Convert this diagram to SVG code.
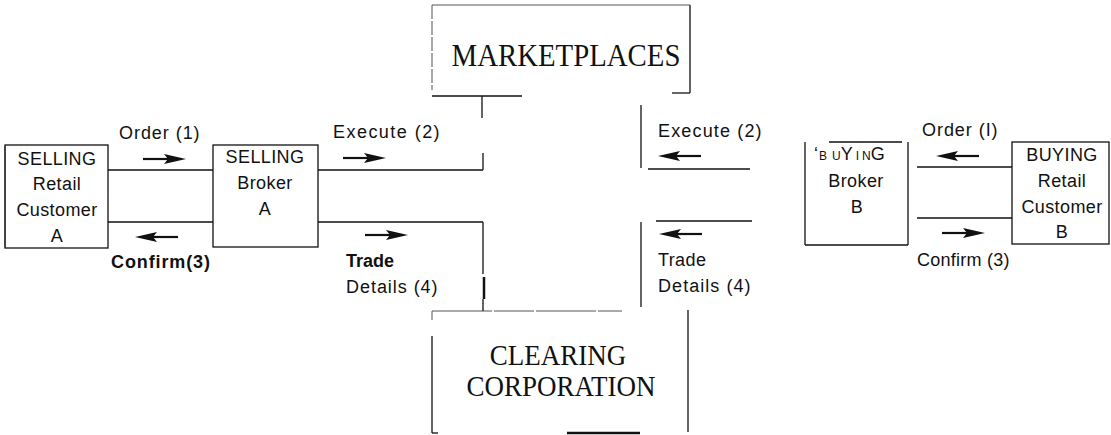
<svg xmlns="http://www.w3.org/2000/svg" xmlns:xlink="http://www.w3.org/1999/xlink" width="1111" height="435" viewBox="0 0 1111 435">
<style>
.s{font-family:"Liberation Sans",Arial,sans-serif;font-size:18px;fill:#111;letter-spacing:0.4px}
.c{text-anchor:middle}
.sm{font-size:12px}
.b{font-weight:bold;letter-spacing:0}
.serif{font-family:"Liberation Serif","Times New Roman",serif;fill:#111;text-anchor:middle}
.ln{stroke:#111;stroke-width:1.3;fill:none}
.lt{stroke:#555;stroke-width:1;fill:none}
.thick{stroke:#111;stroke-width:2.5;fill:none}
</style>
<defs>
<g id="arr">
<line x1="0" y1="0" x2="26" y2="0" stroke="#111" stroke-width="2.2"/>
<path d="M21,-5 L43,0 L21,5 L25,0 Z" fill="#111"/>
</g>
</defs>
<rect width="1111" height="435" fill="#fff"/>

<g id="marketplaces">
<line class="lt" x1="432" y1="5" x2="690" y2="5"/>
<line class="lt" x1="432" y1="5" x2="432" y2="90" stroke-dasharray="14 2"/>
<line class="ln" x1="690" y1="5" x2="690" y2="93"/>
<line class="ln" x1="432" y1="96" x2="522" y2="96"/>
<line class="ln" x1="672" y1="93" x2="690" y2="93"/>
<text class="serif" font-size="32" transform="translate(566,66) scale(0.9,1)">MARKETPLACES</text>
</g>

<g id="clearing">
<line class="lt" x1="432" y1="311" x2="622" y2="311" stroke-dasharray="60 2 40 2"/>
<line class="lt" x1="432" y1="311" x2="432" y2="320"/>
<line class="ln" x1="432" y1="336" x2="432" y2="433"/>
<line class="ln" x1="432" y1="433" x2="438" y2="433"/>
<line class="ln" x1="688" y1="310" x2="688" y2="432"/>
<line class="thick" x1="567" y1="433" x2="640" y2="433" stroke-width="2"/>
<text class="serif" font-size="30" transform="translate(558,365) scale(0.9,1)">CLEARING</text>
<text class="serif" font-size="30" transform="translate(561,396) scale(0.9,1)">CORPORATION</text>
</g>

<g id="selling-customer">
<rect x="5" y="145" width="103" height="103" class="ln" stroke="#333"/>
<line x1="5" y1="146" x2="5" y2="247" stroke="#444" stroke-width="2"/>
<text class="s c" x="57" y="165">SELLING</text>
<text class="s c" x="57" y="190">Retail</text>
<text class="s c" x="57" y="216">Customer</text>
<text class="s c" x="57" y="242">A</text>
</g>

<g id="selling-broker">
<rect x="213" y="145" width="105" height="102" class="ln" stroke="#333"/>
<text class="s c" x="265" y="163">SELLING</text>
<text class="s c" x="265" y="189">Broker</text>
<text class="s c" x="265" y="215">A</text>
</g>

<g id="buying-broker">
<line class="ln" x1="829" y1="142" x2="902" y2="142"/>
<line class="ln" x1="805" y1="142" x2="805" y2="245"/>
<line class="ln" x1="805" y1="245" x2="908" y2="245"/>
<line class="ln" x1="908" y1="142" x2="908" y2="245"/>
<text class="s" x="814" y="160" style="letter-spacing:0">‘<tspan class="sm" dx="1">B</tspan><tspan class="sm" dx="5">U</tspan><tspan>Y</tspan><tspan class="sm" dx="3">I</tspan><tspan class="sm" dx="3">N</tspan><tspan>G</tspan></text>
<text class="s c" x="856" y="187">Broker</text>
<text class="s c" x="857" y="213">B</text>
</g>

<g id="buying-customer">
<rect x="1012" y="142" width="97" height="102" class="ln" stroke="#333"/>
<text class="s c" x="1062" y="161">BUYING</text>
<text class="s c" x="1062" y="187">Retail</text>
<text class="s c" x="1062" y="213">Customer</text>
<text class="s c" x="1062" y="238">B</text>
</g>

<g id="connectors">
<line class="ln" x1="108" y1="170" x2="213" y2="170"/>
<line class="ln" x1="108" y1="222" x2="213" y2="222"/>
<line class="ln" x1="318" y1="170" x2="483" y2="170"/>
<line class="ln" x1="483" y1="153" x2="483" y2="170"/>
<line class="ln" x1="482" y1="96" x2="482" y2="118"/>
<line class="ln" x1="318" y1="222" x2="483" y2="222"/>
<line class="ln" x1="483" y1="222" x2="483" y2="274"/>
<line class="thick" x1="484" y1="277" x2="484" y2="299"/>
<line class="ln" x1="483" y1="299" x2="483" y2="311"/>
<line class="ln" x1="641" y1="105" x2="641" y2="168"/>
<line class="ln" x1="648" y1="169" x2="750" y2="169"/>
<line class="ln" x1="656" y1="221" x2="752" y2="221"/>
<line class="ln" x1="641" y1="222" x2="641" y2="307"/>
<line class="ln" x1="917" y1="167" x2="1012" y2="167"/>
<line class="ln" x1="917" y1="218" x2="1012" y2="218"/>

<use xlink:href="#arr" href="#arr" transform="translate(143,159)"/>
<use xlink:href="#arr" href="#arr" transform="translate(178,237) scale(-1,1)"/>
<use xlink:href="#arr" href="#arr" transform="translate(343,158)"/>
<use xlink:href="#arr" href="#arr" transform="translate(365,235)"/>
<use xlink:href="#arr" href="#arr" transform="translate(701,156) scale(-1,1)"/>
<use xlink:href="#arr" href="#arr" transform="translate(702,234) scale(-1,1)"/>
<use xlink:href="#arr" href="#arr" transform="translate(979,156) scale(-1,1)"/>
<use xlink:href="#arr" href="#arr" transform="translate(942,233)"/>

<text class="s" x="119" y="139" textLength="81" lengthAdjust="spacing">Order (1)</text>
<text class="s b" x="111" y="268" textLength="99" lengthAdjust="spacing">Confirm(3)</text>
<text class="s" x="333" y="138" textLength="107" lengthAdjust="spacing">Execute (2)</text>
<text class="s b" x="346" y="267">Trade</text>
<text class="s" x="346" y="293" textLength="92" lengthAdjust="spacing">Details (4)</text>
<text class="s" x="658" y="137" textLength="104" lengthAdjust="spacing">Execute (2)</text>
<text class="s" x="658" y="266">Trade</text>
<text class="s" x="658" y="292" textLength="93" lengthAdjust="spacing">Details (4)</text>
<text class="s" x="922" y="136" textLength="76" lengthAdjust="spacing">Order (I)</text>
<text class="s" x="917" y="266" textLength="93" lengthAdjust="spacing">Confirm (3)</text>
</g>
</svg>
